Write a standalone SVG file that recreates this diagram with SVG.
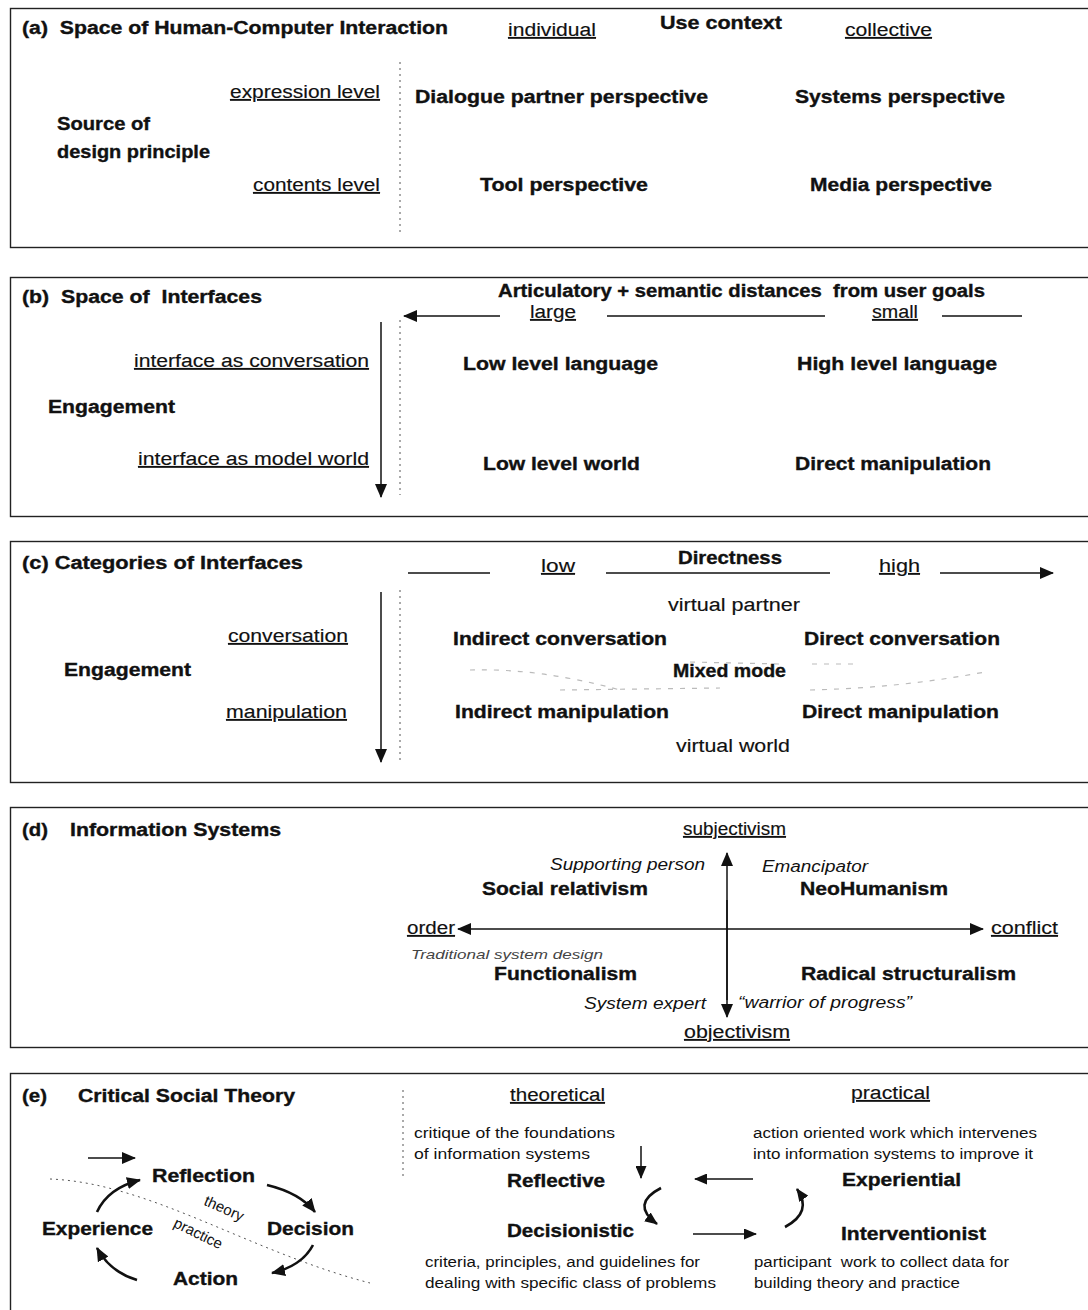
<svg xmlns="http://www.w3.org/2000/svg" width="1088" height="1310" viewBox="0 0 1088 1310">
  <style>
    text { fill: #111; font-family: "Liberation Sans", Arial, sans-serif; white-space: pre; }
    .b { font-size: 18px; font-weight: bold; stroke: #111; stroke-width: 0.35; }
    .r { font-size: 18px; stroke: #111; stroke-width: 0.15; }
    .s { font-size: 15.5px; }
    .i { font-style: italic; font-size: 16px; }
    .u { text-decoration: underline; }
    .frame { fill: none; stroke: #222; stroke-width: 1.4; }
    .axis { fill: none; stroke: #111; stroke-width: 1.5; }
    .thick { fill: none; stroke: #111; stroke-width: 2.6; }
    .dots { fill: none; stroke: #555; stroke-width: 1; stroke-dasharray: 2 4; }
    .faint { fill: none; stroke: #bbb; stroke-width: 1.2; stroke-dasharray: 5 7; }
  </style>
  <defs>
    <marker id="head" markerUnits="userSpaceOnUse" markerWidth="14" markerHeight="12" refX="13" refY="6" orient="auto">
      <path d="M0,0 L14,6 L0,12 z" fill="#111"/>
    </marker>
    <marker id="headS" markerUnits="userSpaceOnUse" markerWidth="13" markerHeight="11" refX="12" refY="5.5" orient="auto">
      <path d="M0,0 L13,5.5 L0,11 z" fill="#111"/>
    </marker>
  </defs>
  <rect width="1088" height="1310" fill="#fff"/>

  <!-- panel frames -->
  <g id="frames">
    <rect class="frame" x="10.5" y="8.5" width="1090" height="239"/>
    <rect class="frame" x="10.5" y="277.5" width="1090" height="239"/>
    <rect class="frame" x="10.5" y="541.5" width="1090" height="241"/>
    <rect class="frame" x="10.5" y="807.5" width="1090" height="240"/>
    <rect class="frame" x="10.5" y="1073.5" width="1090" height="260"/>
  </g>

  <!-- (a) Space of Human-Computer Interaction -->
  <g id="panel-a">
    <text class="b" x="22" y="34" textLength="426" lengthAdjust="spacingAndGlyphs">(a)  Space of Human-Computer Interaction</text>
    <text class="r u" x="508" y="36" textLength="88" lengthAdjust="spacingAndGlyphs">individual</text>
    <text class="b" x="660" y="29" textLength="122" lengthAdjust="spacingAndGlyphs">Use context</text>
    <text class="r u" x="845" y="36" textLength="87" lengthAdjust="spacingAndGlyphs">collective</text>
    <text class="r u" x="230" y="98" textLength="150" lengthAdjust="spacingAndGlyphs">expression level</text>
    <text class="b" x="57" y="130" textLength="93" lengthAdjust="spacingAndGlyphs">Source of</text>
    <text class="b" x="57" y="158" textLength="153" lengthAdjust="spacingAndGlyphs">design principle</text>
    <text class="r u" x="253" y="191" textLength="127" lengthAdjust="spacingAndGlyphs">contents level</text>
    <g id="dialogue-partner"><text class="b" x="415" y="103" textLength="293" lengthAdjust="spacingAndGlyphs">Dialogue partner perspective</text></g>
    <g id="systems"><text class="b" x="795" y="103" textLength="210" lengthAdjust="spacingAndGlyphs">Systems perspective</text></g>
    <g id="tool"><text class="b" x="480" y="191" textLength="168" lengthAdjust="spacingAndGlyphs">Tool perspective</text></g>
    <g id="media"><text class="b" x="810" y="191" textLength="182" lengthAdjust="spacingAndGlyphs">Media perspective</text></g>
  </g>

  <!-- (b) Space of Interfaces -->
  <g id="panel-b">
    <text class="b" x="22" y="303" textLength="240" lengthAdjust="spacingAndGlyphs">(b)  Space of  Interfaces</text>
    <text class="b" x="498" y="297" textLength="487" lengthAdjust="spacingAndGlyphs">Articulatory + semantic distances  from user goals</text>
    <text class="r u" x="530" y="318" textLength="46" lengthAdjust="spacingAndGlyphs">large</text>
    <text class="r u" x="872" y="318" textLength="46" lengthAdjust="spacingAndGlyphs">small</text>
    <text class="r u" x="134" y="367" textLength="235" lengthAdjust="spacingAndGlyphs">interface as conversation</text>
    <text class="b" x="48" y="413" textLength="127" lengthAdjust="spacingAndGlyphs">Engagement</text>
    <text class="r u" x="138" y="465" textLength="231" lengthAdjust="spacingAndGlyphs">interface as model world</text>
    <g id="low-language"><text class="b" x="463" y="370" textLength="195" lengthAdjust="spacingAndGlyphs">Low level language</text></g>
    <g id="high-language"><text class="b" x="797" y="370" textLength="200" lengthAdjust="spacingAndGlyphs">High level language</text></g>
    <g id="low-world"><text class="b" x="483" y="470" textLength="157" lengthAdjust="spacingAndGlyphs">Low level world</text></g>
    <g id="direct-manip-b"><text class="b" x="795" y="470" textLength="196" lengthAdjust="spacingAndGlyphs">Direct manipulation</text></g>
  </g>

  <!-- (c) Categories of Interfaces -->
  <g id="panel-c">
    <text class="b" x="22" y="569" textLength="281" lengthAdjust="spacingAndGlyphs">(c) Categories of Interfaces</text>
    <text class="r u" x="541" y="572" textLength="34" lengthAdjust="spacingAndGlyphs">low</text>
    <text class="b" x="678" y="564" textLength="104" lengthAdjust="spacingAndGlyphs">Directness</text>
    <text class="r u" x="879" y="572" textLength="41" lengthAdjust="spacingAndGlyphs">high</text>
    <text class="r u" x="228" y="642" textLength="120" lengthAdjust="spacingAndGlyphs">conversation</text>
    <text class="b" x="64" y="676" textLength="127" lengthAdjust="spacingAndGlyphs">Engagement</text>
    <text class="r u" x="226" y="718" textLength="121" lengthAdjust="spacingAndGlyphs">manipulation</text>
    <text class="r" x="668" y="611" textLength="132" lengthAdjust="spacingAndGlyphs">virtual partner</text>
    <g id="indirect-conv"><text class="b" x="453" y="645" textLength="214" lengthAdjust="spacingAndGlyphs">Indirect conversation</text></g>
    <g id="direct-conv"><text class="b" x="804" y="645" textLength="196" lengthAdjust="spacingAndGlyphs">Direct conversation</text></g>
    <g id="mixed-mode"><text class="b" x="673" y="677" textLength="113" lengthAdjust="spacingAndGlyphs">Mixed mode</text></g>
    <g id="indirect-manip"><text class="b" x="455" y="718" textLength="214" lengthAdjust="spacingAndGlyphs">Indirect manipulation</text></g>
    <g id="direct-manip-c"><text class="b" x="802" y="718" textLength="197" lengthAdjust="spacingAndGlyphs">Direct manipulation</text></g>
    <text class="r" x="676" y="752" textLength="114" lengthAdjust="spacingAndGlyphs">virtual world</text>
  </g>

  <!-- (d) Information Systems -->
  <g id="panel-d">
    <text class="b" x="22" y="836" textLength="26" lengthAdjust="spacingAndGlyphs">(d)</text>
    <text class="b" x="70" y="836" textLength="211" lengthAdjust="spacingAndGlyphs">Information Systems</text>
    <text class="r u" x="683" y="835" textLength="103" lengthAdjust="spacingAndGlyphs">subjectivism</text>
    <text class="r u" x="407" y="934" textLength="48" lengthAdjust="spacingAndGlyphs">order</text>
    <text class="r u" x="991" y="934" textLength="67" lengthAdjust="spacingAndGlyphs">conflict</text>
    <text class="r u" x="684" y="1038" textLength="106" lengthAdjust="spacingAndGlyphs">objectivism</text>
    <text class="i" x="550" y="870" textLength="155" lengthAdjust="spacingAndGlyphs">Supporting person</text>
    <text class="i" x="762" y="872" textLength="106" lengthAdjust="spacingAndGlyphs">Emancipator</text>
    <text class="i" x="411" y="959" style="font-size:13px; fill:#444" textLength="192" lengthAdjust="spacingAndGlyphs">Traditional system design</text>
    <text class="i" x="584" y="1009" textLength="122" lengthAdjust="spacingAndGlyphs">System expert</text>
    <text class="i" x="738" y="1008" textLength="174" lengthAdjust="spacingAndGlyphs">“warrior of progress”</text>
    <g id="social-relativism"><text class="b" x="482" y="895" textLength="166" lengthAdjust="spacingAndGlyphs">Social relativism</text></g>
    <g id="neohumanism"><text class="b" x="800" y="895" textLength="148" lengthAdjust="spacingAndGlyphs">NeoHumanism</text></g>
    <g id="functionalism"><text class="b" x="494" y="980" textLength="143" lengthAdjust="spacingAndGlyphs">Functionalism</text></g>
    <g id="radical-structuralism"><text class="b" x="801" y="980" textLength="215" lengthAdjust="spacingAndGlyphs">Radical structuralism</text></g>
  </g>

  <!-- (e) Critical Social Theory -->
  <g id="panel-e">
    <text class="b" x="22" y="1102" textLength="25" lengthAdjust="spacingAndGlyphs">(e)</text>
    <text class="b" x="78" y="1102" textLength="217" lengthAdjust="spacingAndGlyphs">Critical Social Theory</text>
    <g id="reflection"><text class="b" x="152" y="1182" textLength="103" lengthAdjust="spacingAndGlyphs">Reflection</text></g>
    <g id="experience"><text class="b" x="42" y="1235" textLength="111" lengthAdjust="spacingAndGlyphs">Experience</text></g>
    <g id="decision"><text class="b" x="267" y="1235" textLength="87" lengthAdjust="spacingAndGlyphs">Decision</text></g>
    <g id="action"><text class="b" x="173" y="1285" textLength="65" lengthAdjust="spacingAndGlyphs">Action</text></g>
    <text style="font-size:15px" transform="translate(222,1213) rotate(24)" text-anchor="middle">theory</text>
    <text style="font-size:15px" transform="translate(196,1238) rotate(26)" text-anchor="middle">practice</text>

    <text class="r u" x="510" y="1101" textLength="95" lengthAdjust="spacingAndGlyphs">theoretical</text>
    <text class="r u" x="851" y="1099" textLength="79" lengthAdjust="spacingAndGlyphs">practical</text>
    <text class="s" x="414" y="1138" textLength="201" lengthAdjust="spacingAndGlyphs">critique of the foundations</text>
    <text class="s" x="414" y="1159" textLength="176" lengthAdjust="spacingAndGlyphs">of information systems</text>
    <g id="reflective"><text class="b" x="507" y="1187" textLength="98" lengthAdjust="spacingAndGlyphs">Reflective</text></g>
    <g id="decisionistic"><text class="b" x="507" y="1237" textLength="127" lengthAdjust="spacingAndGlyphs">Decisionistic</text></g>
    <text class="s" x="425" y="1267" textLength="275" lengthAdjust="spacingAndGlyphs">criteria, principles, and guidelines for</text>
    <text class="s" x="425" y="1288" textLength="291" lengthAdjust="spacingAndGlyphs">dealing with specific class of problems</text>
    <text class="s" x="753" y="1138" textLength="284" lengthAdjust="spacingAndGlyphs">action oriented work which intervenes</text>
    <text class="s" x="753" y="1159" textLength="280" lengthAdjust="spacingAndGlyphs">into information systems to improve it</text>
    <g id="experiential"><text class="b" x="842" y="1186" textLength="119" lengthAdjust="spacingAndGlyphs">Experiential</text></g>
    <g id="interventionist"><text class="b" x="841" y="1240" textLength="145" lengthAdjust="spacingAndGlyphs">Interventionist</text></g>
    <text class="s" x="754" y="1267" textLength="255" lengthAdjust="spacingAndGlyphs">participant  work to collect data for</text>
    <text class="s" x="754" y="1288" textLength="206" lengthAdjust="spacingAndGlyphs">building theory and practice</text>
  </g>

  <!-- connectors, axes and divider lines -->
  <g id="connectors">
    <!-- (a) -->
    <line class="dots" x1="400" y1="62" x2="400" y2="235"/>
    <!-- (b) -->
    <line class="axis" x1="500" y1="316" x2="404" y2="316" marker-end="url(#head)"/>
    <line class="axis" x1="607" y1="316" x2="825" y2="316"/>
    <line class="axis" x1="942" y1="316" x2="1022" y2="316"/>
    <line class="axis" x1="381" y1="322" x2="381" y2="497" marker-end="url(#head)"/>
    <line class="dots" x1="400" y1="320" x2="400" y2="495"/>
    <!-- (c) -->
    <line class="axis" x1="408" y1="573" x2="490" y2="573"/>
    <line class="axis" x1="606" y1="573" x2="830" y2="573"/>
    <line class="axis" x1="940" y1="573" x2="1053" y2="573" marker-end="url(#head)"/>
    <line class="axis" x1="381" y1="592" x2="381" y2="762" marker-end="url(#head)"/>
    <line class="dots" x1="400" y1="590" x2="400" y2="763"/>
    <path class="faint" d="M470,670 Q540,668 620,690 M560,690 L720,688 M690,662 L780,664 M810,690 Q900,688 985,672 M812,664 L860,664"/>
    <!-- (d) -->
    <line class="axis" x1="727" y1="1000" x2="727" y2="853" marker-end="url(#head)"/>
    <line class="axis" x1="727" y1="900" x2="727" y2="1017" marker-end="url(#head)"/>
    <line class="axis" x1="700" y1="929" x2="458" y2="929" marker-end="url(#head)"/>
    <line class="axis" x1="700" y1="929" x2="983" y2="929" marker-end="url(#head)"/>
    <!-- (e) reflection cycle -->
    <line class="axis" x1="88" y1="1158" x2="135" y2="1158" marker-end="url(#head)"/>
    <path class="dots" d="M50,1179 C150,1183 250,1252 370,1283"/>
    <path class="thick" d="M97,1212 Q108,1188 140,1180" marker-end="url(#head)"/>
    <path class="thick" d="M267,1185 Q300,1193 315,1212" marker-end="url(#head)"/>
    <path class="thick" d="M313,1245 Q302,1266 272,1273" marker-end="url(#head)"/>
    <path class="thick" d="M137,1280 Q110,1272 97,1248" marker-end="url(#head)"/>
    <!-- (e) research approaches -->
    <line class="dots" x1="403" y1="1090" x2="403" y2="1180"/>
    <line class="axis" x1="641" y1="1146" x2="641" y2="1178" marker-end="url(#headS)"/>
    <line class="axis" x1="753" y1="1179" x2="695" y2="1179" marker-end="url(#headS)"/>
    <path class="thick" d="M661,1188 Q630,1204 657,1224" marker-end="url(#headS)"/>
    <line class="axis" x1="693" y1="1234" x2="756" y2="1234" marker-end="url(#headS)"/>
    <path class="thick" d="M785,1227 Q813,1212 797,1189" marker-end="url(#headS)"/>
  </g>
</svg>
